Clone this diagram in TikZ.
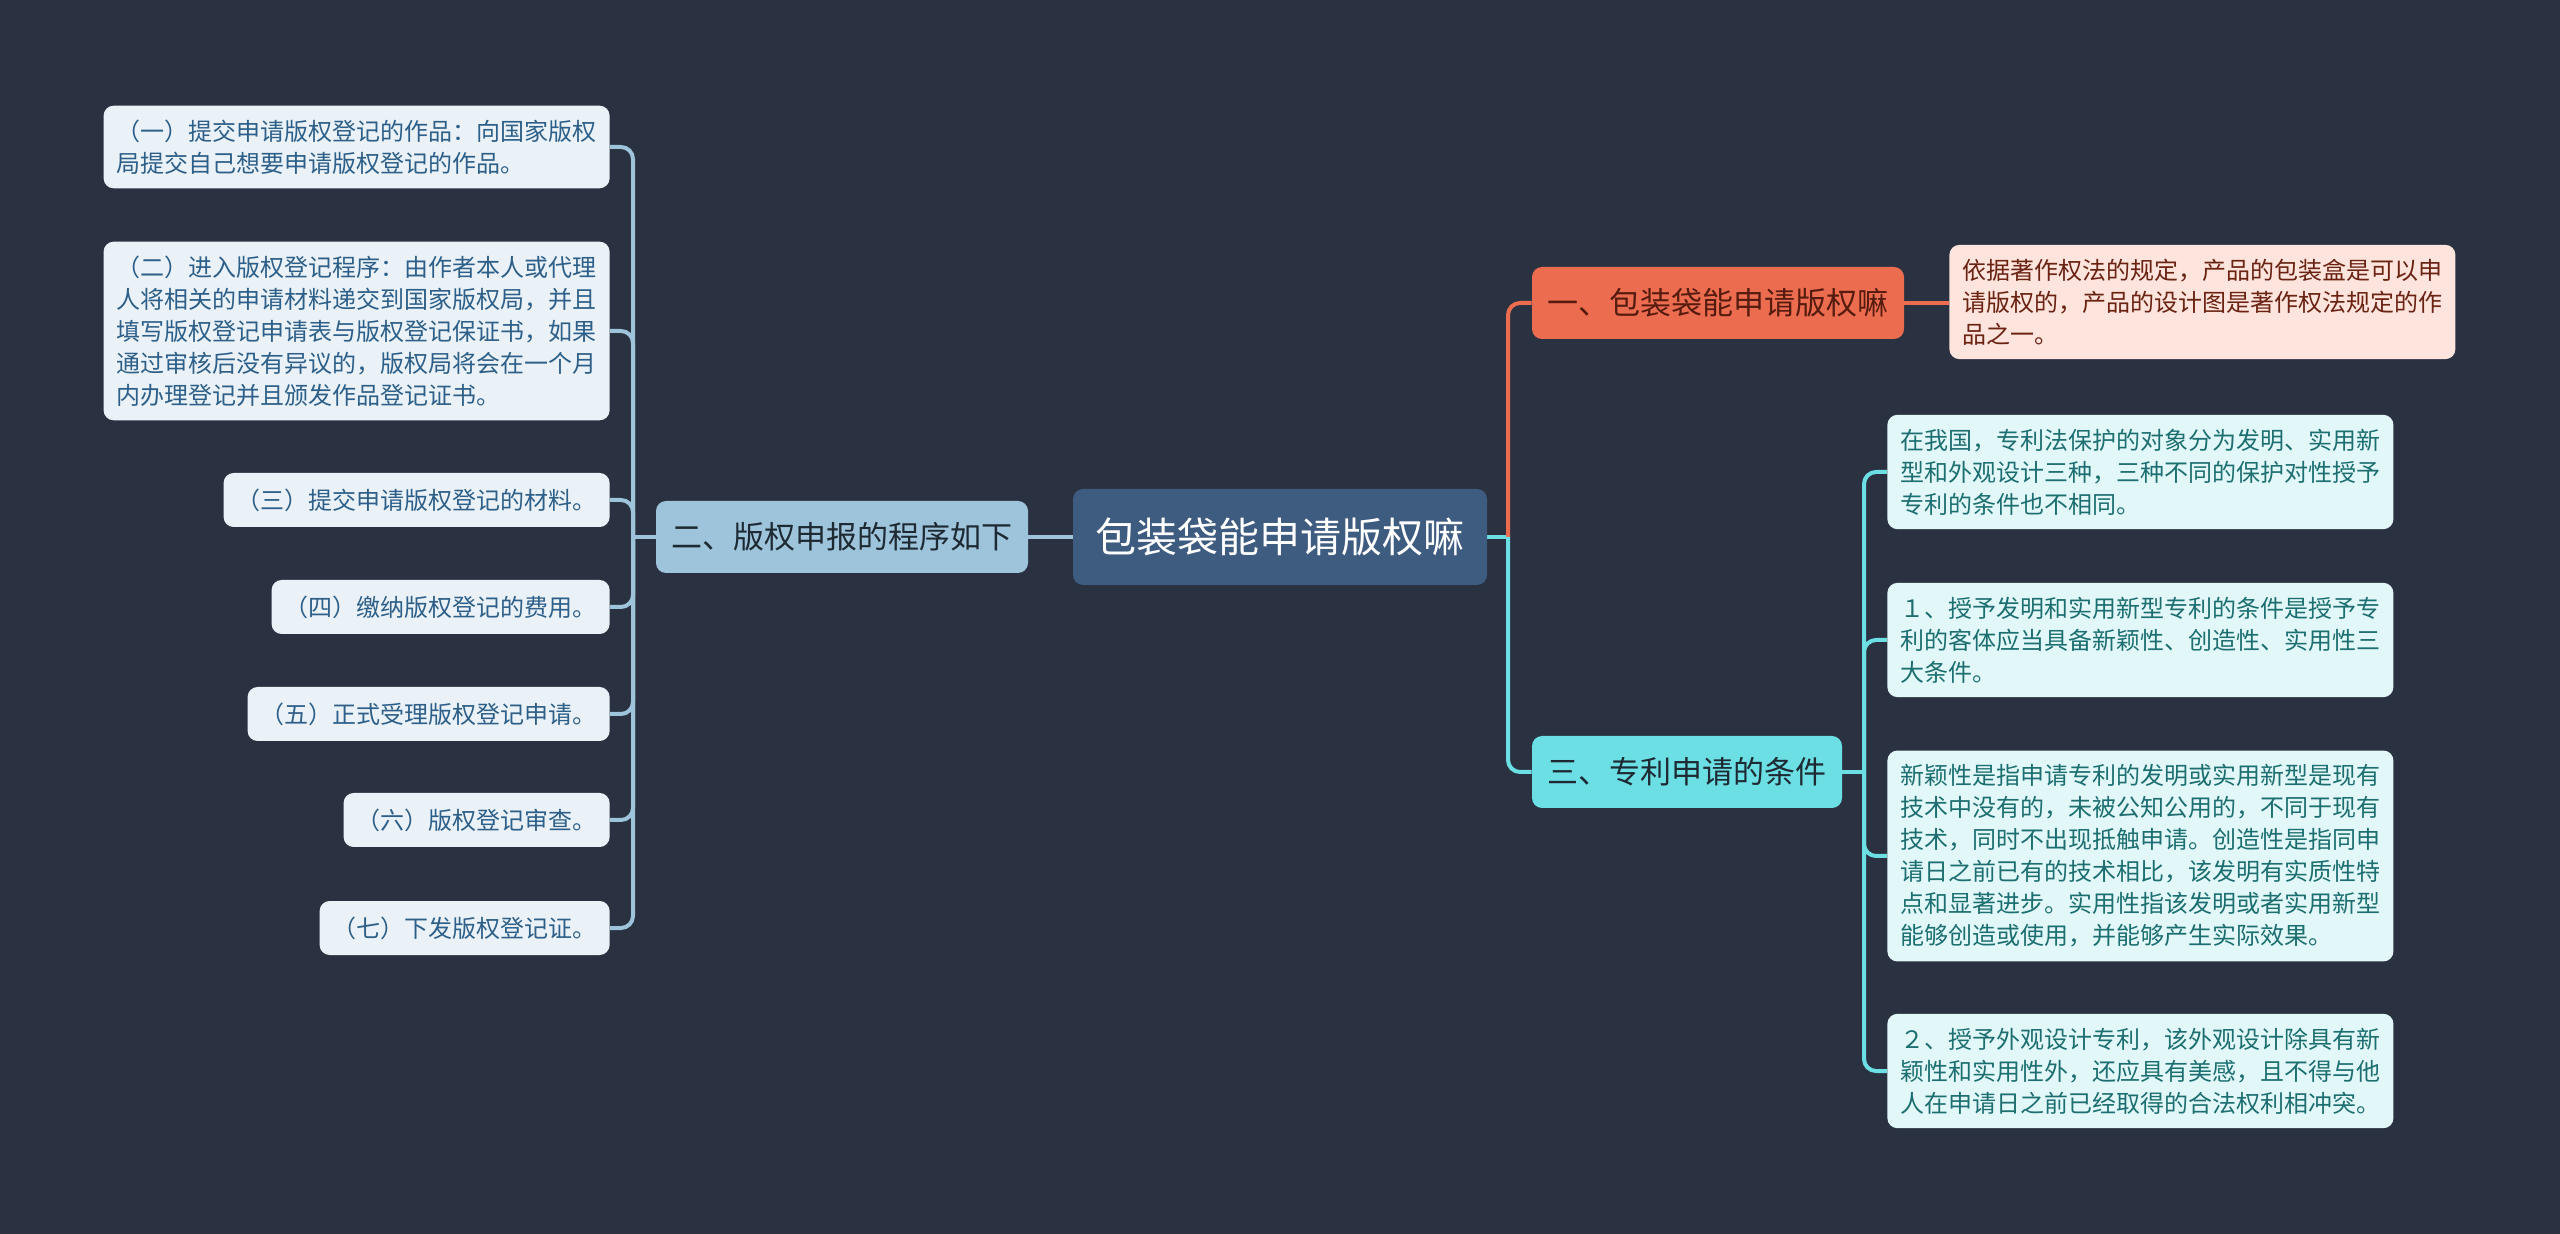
\documentclass[tikz,border=0pt]{standalone}
\usepackage{fontspec}
\newfontfamily\cjk{Noto Sans CJK SC}
\definecolor{bgdark}{HTML}{2A3241}
\definecolor{rootfill}{HTML}{3E5B80}
\definecolor{bluefill}{HTML}{9EC4DC}
\definecolor{blueleaf}{HTML}{EAF2F8}
\definecolor{bluetext}{HTML}{2D5F88}
\definecolor{orangefill}{HTML}{EC6C4F}
\definecolor{pinkleaf}{HTML}{FDE4DC}
\definecolor{pinktext}{HTML}{6A2212}
\definecolor{cyanfill}{HTML}{6CDFE4}
\definecolor{cyanleaf}{HTML}{E2F8F8}
\definecolor{cyantext}{HTML}{1C6E70}
\definecolor{topictext}{HTML}{1E2A33}

\pgfdeclarelayer{canvas}
\pgfdeclarelayer{links}
\pgfsetlayers{canvas,links,main}

\begin{document}
\begin{tikzpicture}[
    x=0.5pt,y=-0.5pt,
    line cap=round,
    line join=round,
    rootbox/.style={rounded corners=5pt, fill=rootfill, text=white,
        minimum width=207pt, minimum height=48pt,
        font=\cjk\fontsize{20.5}{24}\selectfont},
    topicbox/.style={rounded corners=5pt, inner xsep=7.75pt, minimum height=36pt,
        text=topictext, font=\cjk\fontsize{15.5}{19}\selectfont},
    leafbox/.style={rounded corners=5pt, inner xsep=6.5pt, inner ysep=7pt,
        font=\cjk\fontsize{12}{16}\selectfont},
    longleaf/.style={leafbox, text width=240pt, align=left},
    shortleaf/.style={leafbox, minimum height=27pt},
    bluelink/.style={draw=bluefill, line width=2pt, rounded corners=6pt},
    orangelink/.style={draw=orangefill, line width=2pt, rounded corners=6pt},
    cyanlink/.style={draw=cyanfill, line width=2pt, rounded corners=6pt}
]

\begin{pgfonlayer}{canvas}
    \fill[bgdark] (0,0) rectangle (2560,1234);
\end{pgfonlayer}
\useasboundingbox (0,0) rectangle (2560,1234);

\node[rootbox] (root) at (1280,537) {包装袋能申请版权嘛};

\node[topicbox, fill=bluefill] (sec2) at (842,537) {二、版权申报的程序如下};
\node[topicbox, fill=orangefill, text=pinktext!80!black] (sec1) at (1718,303) {一、包装袋能申请版权嘛};
\node[topicbox, fill=cyanfill] (sec3) at (1687,772) {三、专利申请的条件};

\begin{scope}[every node/.append style={anchor=east, fill=blueleaf, text=bluetext}]
    \node[longleaf] (l1) at (610,147)
        {（一）提交申请版权登记的作品：向国家版权\\局提交自己想要申请版权登记的作品。};
    \node[longleaf] (l2) at (610,331)
        {（二）进入版权登记程序：由作者本人或代理\\人将相关的申请材料递交到国家版权局，并且\\填写版权登记申请表与版权登记保证书，如果\\通过审核后没有异议的，版权局将会在一个月\\内办理登记并且颁发作品登记证书。};
    \node[shortleaf] (l3) at (610,500) {（三）提交申请版权登记的材料。};
    \node[shortleaf] (l4) at (610,607) {（四）缴纳版权登记的费用。};
    \node[shortleaf] (l5) at (610,714) {（五）正式受理版权登记申请。};
    \node[shortleaf] (l6) at (610,820) {（六）版权登记审查。};
    \node[shortleaf] (l7) at (610,928) {（七）下发版权登记证。};
\end{scope}

\node[longleaf, anchor=west, fill=pinkleaf, text=pinktext] (p1) at (1949,302)
    {依据著作权法的规定，产品的包装盒是可以申\\请版权的，产品的设计图是著作权法规定的作\\品之一。};

\begin{scope}[every node/.append style={anchor=west, fill=cyanleaf, text=cyantext}]
    \node[longleaf] (ra) at (1887,472)
        {在我国，专利法保护的对象分为发明、实用新\\型和外观设计三种，三种不同的保护对性授予\\专利的条件也不相同。};
    \node[longleaf] (rb) at (1887,640)
        {１、授予发明和实用新型专利的条件是授予专\\利的客体应当具备新颖性、创造性、实用性三\\大条件。};
    \node[longleaf] (rc) at (1887,856)
        {新颖性是指申请专利的发明或实用新型是现有\\技术中没有的，未被公知公用的，不同于现有\\技术，同时不出现抵触申请。创造性是指同申\\请日之前已有的技术相比，该发明有实质性特\\点和显著进步。实用性指该发明或者实用新型\\能够创造或使用，并能够产生实际效果。};
    \node[longleaf] (rd) at (1887,1071)
        {２、授予外观设计专利，该外观设计除具有新\\颖性和实用性外，还应具有美感，且不得与他\\人在申请日之前已经取得的合法权利相冲突。};
\end{scope}

\coordinate (lsp) at (633,537);
\coordinate (rsp) at (1508,537);
\coordinate (csp) at (1864,772);

\begin{pgfonlayer}{links}
    \draw[bluelink] (root.west) -- (sec2.east);
    \draw[bluelink] (sec2.west) -- (lsp);
    \foreach \n in {1,...,7} {
        \draw[bluelink] (l\n.east) -| (lsp);
    }

    \draw[cyanlink] (root.east) -- (rsp);
    \draw[orangelink] (rsp) |- (sec1.west);
    \draw[cyanlink] (rsp) |- (sec3.west);
    \draw[orangelink] (sec1.east) -- (p1.west |- sec1.east);

    \draw[cyanlink] (sec3.east) -- (csp);
    \foreach \n in {ra,rb,rc,rd} {
        \draw[cyanlink] (csp) |- (\n.west);
    }
\end{pgfonlayer}
\end{tikzpicture}
\end{document}
